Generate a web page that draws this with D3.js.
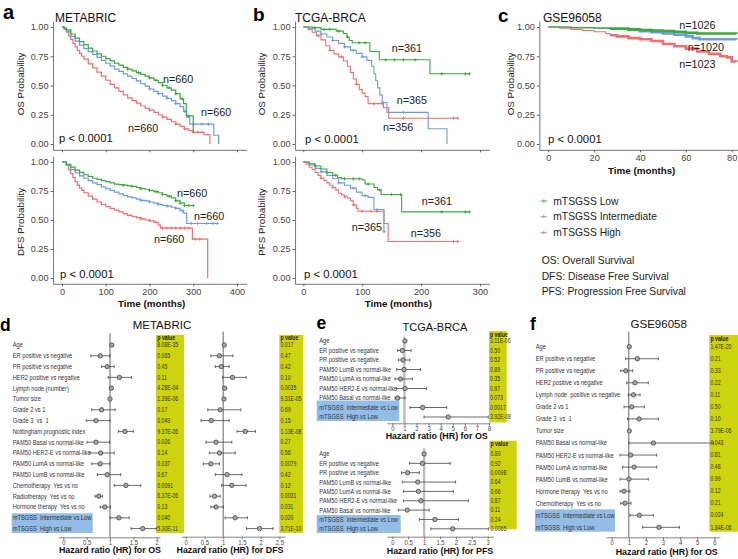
<!DOCTYPE html>
<html>
<head>
<meta charset="utf-8">
<script src="https://cdn.jsdelivr.net/npm/d3@7"></script>
<style>
  body { margin: 0; background: #fff; }
  text { white-space: pre; }
</style>
</head>
<body>
<script>
(function (d3) {
    'use strict';

    // ---------- Kaplan-Meier data: [month, survival probability] ----------
    var groups = ["mTSGSS Low", "mTSGSS Intermediate", "mTSGSS High"];

    var metabricOsLow = [[0,1],[5,0.99],[10,0.975],[20,0.94],[30,0.905],[40,0.875],[50,0.85],[60,0.82],[70,0.795],[80,0.77],[90,0.75],[100,0.73],[110,0.71],[120,0.69],[130,0.675],[140,0.655],[150,0.64],[160,0.625],[170,0.61],[180,0.595],[190,0.58],[200,0.565],[210,0.545],[220,0.525],[230,0.5],[240,0.48],[250,0.46],[260,0.43],[270,0.385],[278,0.345],[284,0.24],[300,0.105],[302,0.105]];
    var metabricOsInt = [[0,1],[5,0.985],[10,0.965],[20,0.92],[30,0.88],[40,0.845],[50,0.815],[60,0.79],[70,0.765],[80,0.74],[90,0.715],[100,0.69],[110,0.665],[120,0.64],[130,0.62],[140,0.6],[150,0.58],[160,0.56],[170,0.54],[180,0.515],[190,0.495],[200,0.47],[210,0.45],[220,0.43],[230,0.41],[240,0.39],[250,0.37],[260,0.345],[270,0.32],[278,0.28],[285,0.23],[292,0.17],[347,0.075],[358,0]];
    var metabricOsHigh = [[0,1],[5,0.98],[10,0.955],[15,0.925],[20,0.895],[25,0.86],[30,0.83],[35,0.8],[40,0.775],[45,0.75],[50,0.725],[60,0.685],[70,0.65],[80,0.615],[90,0.58],[100,0.545],[110,0.51],[120,0.48],[130,0.45],[140,0.42],[150,0.395],[160,0.37],[170,0.35],[180,0.325],[190,0.305],[200,0.29],[210,0.27],[220,0.25],[230,0.23],[240,0.21],[250,0.19],[260,0.17],[270,0.15],[280,0.13],[290,0.115],[300,0.1],[325,0.08],[338,0]];
    var metabricOsCensor = [[150,175,200,215,230,245,260,275,290],[200,220,240,260,280,300,320,335],[200,230,260,280,300,310,320]];

    var metabricDfsLow = [[0,1],[10,0.98],[20,0.955],[30,0.93],[40,0.91],[50,0.89],[60,0.875],[70,0.86],[80,0.85],[90,0.84],[100,0.83],[110,0.82],[120,0.81],[130,0.805],[140,0.8],[150,0.795],[160,0.79],[170,0.78],[180,0.77],[190,0.765],[200,0.755],[210,0.745],[220,0.735],[230,0.72],[240,0.705],[250,0.69],[260,0.665],[270,0.645],[280,0.625],[300,0.625]];
    var metabricDfsInt = [[0,1],[10,0.97],[20,0.935],[30,0.905],[40,0.88],[50,0.86],[60,0.84],[70,0.82],[80,0.805],[90,0.785],[100,0.77],[110,0.755],[120,0.74],[130,0.725],[140,0.71],[150,0.7],[160,0.69],[170,0.68],[180,0.67],[190,0.665],[200,0.655],[210,0.645],[220,0.635],[230,0.625],[240,0.62],[250,0.61],[260,0.6],[270,0.58],[278,0.56],[285,0.47],[355,0.47]];
    var metabricDfsHigh = [[0,1],[10,0.97],[15,0.935],[20,0.9],[25,0.865],[30,0.83],[35,0.8],[40,0.775],[45,0.755],[50,0.735],[60,0.705],[70,0.68],[80,0.655],[90,0.635],[100,0.615],[110,0.6],[120,0.585],[130,0.57],[140,0.555],[150,0.54],[160,0.53],[170,0.52],[180,0.51],[190,0.5],[200,0.495],[210,0.48],[220,0.455],[225,0.43],[298,0.335],[333,0]];
    var metabricDfsCensor = [[140,160,180,200,215,230,245,260,270,280,290,300],[180,200,220,240,260,275,295,310,330,345,355],[180,200,215,230,240,250,260,270,280,290,305,315]];

    var tcgaOsLow = [[0,1],[15,0.995],[30,0.98],[56,0.965],[68,0.945],[74,0.915],[78,0.885],[83,0.865],[113,0.79],[129,0.72],[215,0.6],[282,0.6]];
    var tcgaOsInt = [[0,1],[10,0.985],[20,0.965],[30,0.94],[40,0.915],[50,0.885],[60,0.86],[70,0.83],[80,0.8],[90,0.775],[100,0.745],[108,0.715],[116,0.665],[120,0.6],[123,0.54],[126,0.48],[130,0.42],[134,0.355],[142,0.27],[212,0.13],[244,0]];
    var tcgaOsHigh = [[0,1],[8,0.98],[15,0.955],[22,0.925],[30,0.89],[38,0.84],[45,0.8],[52,0.77],[60,0.745],[68,0.71],[75,0.665],[80,0.61],[85,0.555],[90,0.51],[95,0.465],[100,0.435],[105,0.405],[110,0.345],[136,0.31],[145,0.22],[262,0.22]];
    var tcgaOsCensor = [[20,35,45,60,75,95,105,140,155,170,190,235,275,282],[30,50,70,85,100,135,170],[25,45,65,90,120,135,170,255,262]];

    var tcgaPfsLow = [[0,1],[10,0.985],[20,0.965],[30,0.94],[40,0.91],[50,0.885],[58,0.865],[65,0.855],[100,0.845],[105,0.81],[120,0.78],[126,0.76],[132,0.72],[167,0.57],[282,0.57]];
    var tcgaPfsInt = [[0,1],[10,0.975],[20,0.945],[30,0.915],[40,0.885],[50,0.855],[60,0.82],[70,0.8],[80,0.775],[90,0.74],[100,0.71],[110,0.695],[120,0.59],[137,0.4],[138,0.4]];
    var tcgaPfsHigh = [[0,1],[5,0.98],[10,0.955],[15,0.935],[20,0.91],[25,0.885],[30,0.86],[35,0.84],[40,0.82],[45,0.8],[50,0.78],[55,0.76],[60,0.73],[65,0.715],[70,0.7],[75,0.69],[80,0.665],[85,0.63],[90,0.6],[93,0.575],[137,0.47],[144,0.315],[262,0.315]];
    var tcgaPfsCensor = [[20,40,55,70,85,95,110,130,150,165,235,275,282],[30,60,85,105,125,137],[30,50,70,85,100,115,125,255,262]];

    var gseOsLow = [[0,1],[10,0.995],[20,0.99],[27,0.985],[35,0.98],[40,0.975],[45,0.97],[50,0.965],[55,0.96],[60,0.95],[65,0.945],[82,0.94]];
    var gseOsInt = [[0,1],[10,0.995],[20,0.99],[27,0.985],[35,0.975],[40,0.965],[45,0.955],[50,0.945],[55,0.935],[60,0.92],[63,0.905],[66,0.895],[82,0.893]];
    var gseOsHigh = [[0,1],[5,0.99],[10,0.98],[15,0.97],[20,0.96],[25,0.945],[27,0.93],[30,0.92],[35,0.905],[40,0.895],[45,0.88],[50,0.855],[55,0.835],[60,0.815],[65,0.79],[70,0.77],[75,0.75],[78,0.74],[80,0.705],[82,0.7]];

    var metabricN = ["n=660", "n=660", "n=660"];
    var tcgaN = ["n=361", "n=365", "n=356"];
    var gseN = ["n=1026", "n=1020", "n=1023"];

    // ---------- Cox regression (forest plot) data ----------
    var metabricVars = ["Age", "ER positive vs negative", "PR positive vs negative", "HER2 positive vs negative",
        "Lymph node (number)", "Tumor size", "Grade 2 vs 1", "Grade 3  vs  1", "Nottingham prognostic index",
        "PAM50 Basal vs normal-like", "PAM50 HER2-E vs normal-like", "PAM50 LumA vs normal-like",
        "PAM50 LumB vs normal-like", "Chemotherapy  Yes vs no", "Radiotherapy  Yes vs no",
        "Hormone therapy  Yes vs no", "mTSGSS  Intermediate vs Low", "mTSGSS  High vs Low"];
    var metabricOsHR = [1.04,0.79,0.94,1.20,1.03,1.00,0.82,0.70,1.32,0.70,0.80,0.79,0.94,1.34,0.76,0.89,1.19,1.70];
    var metabricOsLo = [1.03,0.59,0.82,0.96,1.02,0.99,0.61,0.49,1.18,0.51,0.57,0.61,0.73,1.09,0.68,0.79,1.00,1.45];
    var metabricOsHi = [1.05,1.00,1.09,1.46,1.04,1.01,1.11,1.00,1.50,0.99,1.09,1.00,1.23,1.66,0.84,1.01,1.41,1.99];
    var metabricOsP = ["8.08E-35","0.065","0.45","0.11","4.28E-04","1.39E-06","0.17","0.049","9.37E-06","0.026","0.14","0.037","0.67","0.0091","6.37E-06","0.13","0.040","5.30E-11"];
    var metabricDfsHR = [1.03,0.90,0.95,1.25,1.04,1.02,0.92,0.68,1.59,0.81,0.90,0.67,1.10,1.23,0.77,0.81,1.32,1.97];
    var metabricDfsLo = [1.02,0.67,0.79,0.99,1.03,1.01,0.59,0.41,1.37,0.54,0.63,0.47,0.79,0.96,0.65,0.67,1.05,1.62];
    var metabricDfsHi = [1.04,1.26,1.16,1.61,1.05,1.03,1.47,1.16,1.86,1.23,1.32,0.90,1.50,1.61,0.92,1.01,1.65,2.33];
    var metabricDfsP = ["0.017","0.47","0.42","0.10","0.0035","9.31E-05","0.69","0.15","1.13E-08","0.27","0.56","0.0079","0.42","0.12","0.0031","0.031","0.020","3.71E-10"];

    var tcgaVars = ["Age", "ER positive vs negative", "PR positive vs negative", "PAM50 LumB vs normal-like",
        "PAM50 LumA vs normal-like", "PAM50 HER2-E vs normal-like", "PAM50 Basal vs normal-like",
        "mTSGSS  Intermediate vs Low", "mTSGSS  High vs Low"];
    var tcgaOsHR = [1.05,0.83,0.88,0.97,0.69,1.05,0.44,2.51,4.63];
    var tcgaOsLo = [1.03,0.44,0.50,0.36,0.22,0.36,0.22,1.46,2.62];
    var tcgaOsHi = [1.07,1.55,1.46,2.34,1.66,2.84,1.05,4.50,7.94];
    var tcgaOsP = ["3.11E-06","0.50","0.52","0.89","0.35","0.97","0.073","0.0017","3.92E-08"];
    var tcgaPfsHR = [1.00,0.95,0.48,0.80,0.82,0.90,0.47,1.34,1.90];
    var tcgaPfsLo = [0.99,0.54,0.29,0.31,0.35,0.35,0.19,0.85,1.21];
    var tcgaPfsHi = [1.01,1.82,0.85,1.99,1.92,2.39,1.16,2.08,3.02];
    var tcgaPfsP = ["0.80","0.92","0.0098","0.64","0.66","0.87","0.11","0.24","0.0065"];

    var gseVars = ["Age", "ER positive vs negative", "PR positive vs negative", "HER2 positive vs negative",
        "Lymph node  positive vs negative", "Grade 2 vs 1", "Grade 3  vs  1", "Tumor size",
        "PAM50 Basal vs normal-like", "PAM50 HER2-E vs normal-like", "PAM50 LumA vs normal-like",
        "PAM50 LumB vs normal-like", "Hormone therapy  Yes vs no", "Chemotherapy  Yes vs no",
        "mTSGSS  Intermediate vs Low", "mTSGSS  High vs Low"];
    var gseOsHR = [1.03,1.50,0.82,1.36,1.27,1.17,1.60,1.03,2.44,1.11,1.31,1.01,0.72,0.78,1.62,2.77];
    var gseOsLo = [1.02,0.82,0.53,0.88,0.97,0.72,0.92,1.02,1.01,0.49,0.64,0.49,0.49,0.53,1.07,1.81];
    var gseOsHi = [1.04,2.73,1.23,2.14,1.66,1.91,2.73,1.04,5.95,2.63,2.63,2.14,1.07,1.13,2.44,3.96];
    var gseOsP = ["1.47E-20","0.21","0.33","0.22","0.11","0.50","0.10","3.79E-06","0.043","0.81","0.48","0.99","0.12","0.21","0.024","1.84E-06"];

    var abbrevs = ["OS: Overall Survival", "DFS: Disease Free Survival", "PFS: Progression Free Survival"];

    // ---------- styles ----------
    var colors = ["#3aa83a", "#6f9bdc", "#f16e6e"];
    var SANS = "'Liberation Sans', Arial, Helvetica, sans-serif";
    var YELLOW = "#cdd30c";
    var BLUE = "#93bde6";
    var SQUEEZE = 0.82;   // forest text is a condensed face, fake it by scaling

    var svg = d3.select("body").append("svg")
        .attr("width", 738)
        .attr("height", 559)
        .attr("font-family", SANS);

    svg.append("rect").attr("width", 738).attr("height", 559).attr("fill", "#fff");

    // scale that maps d0->p0, d1->p1 but spans the wider domain [e0, e1]
    function fitScale(d0, p0, d1, p1, e0, e1) {
        var s = d3.scaleLinear().domain([d0, d1]).range([p0, p1]);
        return d3.scaleLinear().domain([e0, e1]).range([s(e0), s(e1)]);
    }

    function stepValue(data, t) {
        var v = data[0][1];
        data.forEach(function (d) { if (d[0] <= t) v = d[1]; });
        return v;
    }

    function drawKM(o) {
        var g = svg.append("g");
        var x = fitScale(0, o.x0, o.xRef, o.xRefPx, o.xMin, o.xMax);
        var y = fitScale(0, o.y0, 1, o.y1, -0.05, 1.05);

        var ya = g.append("g")
            .attr("transform", "translate(" + x(o.xMin) + ",0)")
            .call(d3.axisLeft(y).tickValues([0, 0.25, 0.5, 0.75, 1])
                .tickFormat(d3.format(".2f")).tickSize(2.5).tickPadding(2).tickSizeOuter(0));
        var xa = g.append("g")
            .attr("transform", "translate(0," + y(-0.05) + ")")
            .call(d3.axisBottom(x).tickValues(o.ticks).tickSize(2.5).tickPadding(2.5).tickSizeOuter(0));
        if (!o.xLabels) xa.selectAll("text").remove();
        [ya, xa].forEach(function (a) {
            a.select(".domain").attr("stroke", "#666").attr("stroke-width", 0.9);
            a.selectAll(".tick line").attr("stroke", "#666");
            a.selectAll("text").attr("font-family", SANS).attr("font-size", 9.2).attr("fill", "#444");
        });

        var clipId = "clip" + o.id;
        g.append("clipPath").attr("id", clipId).append("rect")
            .attr("x", x(o.xMin)).attr("y", y(1.05))
            .attr("width", x(o.xMax) - x(o.xMin)).attr("height", y(-0.05) - y(1.05));

        var line = d3.line()
            .x(function (d) { return x(d[0]); })
            .y(function (d) { return y(d[1]); })
            .curve(d3.curveStepAfter);

        var curves = g.append("g").attr("clip-path", "url(#" + clipId + ")");
        // draw high first so low sits on top
        [2, 1, 0].forEach(function (i) {
            var data = o.series[i];
            curves.append("path")
                .datum(data)
                .attr("fill", "none")
                .attr("stroke", colors[i])
                .attr("stroke-width", o.stroke)
                .attr("d", line);
            if (o.denseFrom !== undefined) {
                var dense = data.filter(function (d) { return d[0] >= o.denseFrom; });
                dense.unshift([o.denseFrom, stepValue(data, o.denseFrom)]);
                curves.append("path")
                    .datum(dense)
                    .attr("fill", "none")
                    .attr("stroke", colors[i])
                    .attr("stroke-width", 2.6)
                    .attr("d", line);
            }
            if (o.censor) {
                curves.selectAll(null)
                    .data(o.censor[i])
                    .enter().append("path")
                    .attr("stroke", colors[i])
                    .attr("stroke-width", 0.9)
                    .attr("d", function (t) {
                        var cx = x(t), cy = y(stepValue(data, t));
                        return "M" + (cx - 1.6) + "," + cy + "H" + (cx + 1.6) + "M" + cx + "," + (cy - 1.6) + "V" + (cy + 1.6);
                    });
            }
        });

        o.nLabels.forEach(function (txt, i) {
            g.append("text").attr("x", o.nPos[i][0]).attr("y", o.nPos[i][1])
                .attr("font-size", 10.8).attr("fill", "#222").text(txt);
        });

        g.append("text").attr("x", o.pPos[0]).attr("y", o.pPos[1])
            .attr("font-size", 11.3).attr("fill", "#111").text("p < 0.0001");

        g.append("text")
            .attr("transform", "translate(" + o.yTitle[1] + "," + o.yTitle[2] + ") rotate(-90)")
            .attr("text-anchor", "middle")
            .attr("font-size", 9.8).attr("fill", "#222")
            .text(o.yTitle[0]);

        if (o.xTitle) {
            g.append("text").attr("x", o.xTitle[0]).attr("y", o.xTitle[1])
                .attr("text-anchor", "middle").attr("font-weight", "bold")
                .attr("font-size", 9.8).attr("fill", "#111").text("Time (months)");
        }
    }

    drawKM({ id: "a1", series: [metabricOsLow, metabricOsInt, metabricOsHigh], censor: metabricOsCensor,
        x0: 62, xRef: 400, xRefPx: 237, xMin: -20.5, xMax: 422, y0: 144, y1: 27,
        ticks: [0, 100, 200, 300, 400], xLabels: false, stroke: 1.2,
        nLabels: metabricN, nPos: [[163, 83], [201, 116], [128, 132]], pPos: [59, 142],
        yTitle: ["OS Probability", 24, 84] });
    drawKM({ id: "a2", series: [metabricDfsLow, metabricDfsInt, metabricDfsHigh], censor: metabricDfsCensor,
        x0: 62, xRef: 400, xRefPx: 237, xMin: -20.5, xMax: 422, y0: 278, y1: 162,
        ticks: [0, 100, 200, 300, 400], xLabels: true, stroke: 1.2,
        nLabels: metabricN, nPos: [[177, 197], [194, 220], [154, 243]], pPos: [60, 278],
        yTitle: ["DFS Probability", 24, 222], xTitle: [151.7, 307.3] });
    drawKM({ id: "b1", series: [tcgaOsLow, tcgaOsInt, tcgaOsHigh], censor: tcgaOsCensor,
        x0: 303.3, xRef: 300, xRefPx: 480, xMin: -14, xMax: 316, y0: 144, y1: 27,
        ticks: [0, 100, 200, 300], xLabels: false, stroke: 1.1,
        nLabels: tcgaN, nPos: [[391.7, 52.3], [396.7, 104], [383, 130.7]], pPos: [305, 142.7],
        yTitle: ["OS Probability", 265, 84] });
    drawKM({ id: "b2", series: [tcgaPfsLow, tcgaPfsInt, tcgaPfsHigh], censor: tcgaPfsCensor,
        x0: 303.3, xRef: 300, xRefPx: 480, xMin: -14, xMax: 316, y0: 278, y1: 162,
        ticks: [0, 100, 200, 300], xLabels: true, stroke: 1.1,
        nLabels: tcgaN, nPos: [[421.7, 205], [351.7, 230.7], [410.7, 236.7]], pPos: [304, 278.3],
        yTitle: ["PFS Probability", 265, 222], xTitle: [398.3, 306.7] });
    drawKM({ id: "c1", series: [gseOsLow, gseOsInt, gseOsHigh], denseFrom: 27,
        x0: 548.3, xRef: 80, xRefPx: 731.7, xMin: -3.9, xMax: 85, y0: 144, y1: 27,
        ticks: [0, 20, 40, 60, 80], xLabels: true, stroke: 1.1,
        nLabels: gseN, nPos: [[679.3, 29.3], [687.7, 51], [679.3, 68.3]], pPos: [548, 142.7],
        yTitle: ["OS Probability", 514, 84], xTitle: [641.7, 174] });

    // panel titles and letters
    [["METABRIC", 55, 21.5], ["TCGA-BRCA", 295, 21.5], ["GSE96058", 543, 22]].forEach(function (t) {
        svg.append("text").attr("x", t[1]).attr("y", t[2]).attr("font-size", 12).attr("fill", "#111").text(t[0]);
    });
    [["a", 3, 18.5, 20], ["b", 253, 20.5, 19], ["c", 498, 21.7, 19],
     ["d", 0, 330.5, 17.5], ["e", 316.5, 329, 17.5], ["f", 530, 330, 17.5]].forEach(function (t) {
        svg.append("text").attr("x", t[1]).attr("y", t[2]).attr("font-size", t[3])
            .attr("font-weight", "bold").attr("fill", "#000").text(t[0]);
    });

    // legend
    var legend = svg.append("g");
    groups.forEach(function (name, i) {
        var ly = [201, 216.7, 232.7][i];
        legend.append("path").attr("stroke", colors[i]).attr("stroke-width", 0.9)
            .attr("d", "M540.5," + ly + "H547M543.8," + (ly - 1.7) + "V" + (ly + 1.7));
        legend.append("text").attr("x", 553.3).attr("y", ly).attr("dy", "0.35em")
            .attr("font-size", 10.3).attr("fill", "#222").text(name);
    });
    abbrevs.forEach(function (txt, i) {
        legend.append("text").attr("x", 541.7).attr("y", [260.7, 276.7, 291.7][i]).attr("dy", "0.35em")
            .attr("font-size", 10.3).attr("fill", "#222").text(txt);
    });

    // ---------- forest plots ----------
    function squeezed(sel, px, py) {
        return sel.attr("transform", function (d, i) {
            return "translate(" + px(d, i) + "," + py(d, i) + ") scale(" + SQUEEZE + ",1)";
        });
    }

    function drawLabels(vars, labelX, rowY0, rowStep, hlBox) {
        var g = svg.append("g");
        g.append("rect").attr("x", hlBox[0]).attr("y", hlBox[1])
            .attr("width", hlBox[2] - hlBox[0]).attr("height", hlBox[3] - hlBox[1]).attr("fill", BLUE);
        var t = g.selectAll("text").data(vars).enter().append("text")
            .attr("dy", "0.35em")
            .attr("font-size", 7).attr("fill", "#333")
            .text(function (d) { return d; });
        squeezed(t, function () { return labelX; }, function (d, i) { return rowY0 + i * rowStep; });
    }

    function drawForest(o) {
        var g = svg.append("g");
        var x = fitScale(0, o.x0, o.xRef, o.xRefPx, o.e0, o.e1);
        var rowY = function (i) { return o.rowY0 + i * o.rowStep; };

        // p value column
        g.append("rect").attr("x", o.pBox[0]).attr("y", o.pBox[1])
            .attr("width", o.pBox[2] - o.pBox[0]).attr("height", o.pBox[3] - o.pBox[1]).attr("fill", YELLOW);
        var head = g.append("text").datum("p value").attr("dy", "0.35em")
            .attr("font-size", 6.3).attr("font-weight", "bold")
            .attr("fill", "#222").text("p value");
        squeezed(head, function () { return o.pX; }, function () { return o.pHeadY; });
        var pv = g.selectAll(".pv").data(o.p).enter().append("text")
            .attr("dy", "0.35em")
            .attr("font-size", 6.3).attr("fill", "#333")
            .text(function (d) { return d; });
        squeezed(pv, function () { return o.pX; }, function (d, i) { return rowY(i); });

        // reference line at HR = 1
        g.append("line").attr("x1", x(1)).attr("x2", x(1))
            .attr("y1", o.refTop).attr("y2", o.axisY)
            .attr("stroke", o.refColor).attr("stroke-width", o.refWidth);

        // axis
        var ax = g.append("g").attr("transform", "translate(0," + o.axisY + ")")
            .call(d3.axisBottom(x).tickValues(o.ticks).tickFormat(function (d) { return String(d); })
                .tickSize(2.5).tickPadding(0.5).tickSizeOuter(0));
        ax.select(".domain").attr("stroke", "#777").attr("stroke-width", 0.9);
        ax.selectAll(".tick line").attr("stroke", "#777");
        ax.selectAll("text").attr("font-size", 7.2).attr("fill", "#444")
            .attr("transform", "scale(" + SQUEEZE + ",1)");

        g.append("text").attr("x", o.title[0]).attr("y", o.title[1])
            .attr("text-anchor", "middle").attr("font-weight", "bold")
            .attr("font-size", 8.9).attr("fill", "#111").text(o.titleText);

        // confidence intervals and points
        var rows = g.selectAll(".row").data(o.hr).enter().append("g");
        rows.append("path")
            .attr("fill", "none").attr("stroke", "#444").attr("stroke-width", 0.8)
            .attr("d", function (d, i) {
                var y = rowY(i), a = x(o.lo[i]), b = x(o.hi[i]);
                return "M" + a + "," + y + "H" + b +
                    "M" + a + "," + (y - 1.5) + "V" + (y + 1.5) +
                    "M" + b + "," + (y - 1.5) + "V" + (y + 1.5);
            });
        rows.append("circle")
            .attr("cx", function (d) { return x(d); })
            .attr("cy", function (d, i) { return rowY(i); })
            .attr("r", 2.2)
            .attr("fill", "#a8a8a8").attr("stroke", "#333").attr("stroke-width", 0.7);
    }

    // d: METABRIC
    drawLabels(metabricVars, 12.7, 345, 10.8, [11.7, 513.3, 92.7, 533]);
    drawForest({ hr: metabricOsHR, lo: metabricOsLo, hi: metabricOsHi, p: metabricOsP,
        rowY0: 345, rowStep: 10.8, x0: 63.3, xRef: 2, xRefPx: 156.7, e0: -0.107, e1: 2.07,
        ticks: [0, 0.5, 1, 1.5, 2], axisY: 537.3, refTop: 333, refColor: "#555", refWidth: 0.9,
        pBox: [156, 335, 184, 533], pX: 157.3, pHeadY: 338,
        titleText: "Hazard ratio (HR) for OS", title: [110, 553.3] });
    drawForest({ hr: metabricDfsHR, lo: metabricDfsLo, hi: metabricDfsHi, p: metabricDfsP,
        rowY0: 345, rowStep: 10.8, x0: 185.7, xRef: 2.5, xRefPx: 279.4, e0: -0.107, e1: 2.65,
        ticks: [0, 0.5, 1, 1.5, 2, 2.5], axisY: 536.7, refTop: 331.7, refColor: "#555", refWidth: 0.9,
        pBox: [279.3, 335, 303.3, 533], pX: 280.5, pHeadY: 338,
        titleText: "Hazard ratio (HR) for DFS", title: [230, 553.3] });
    svg.append("text").attr("x", 162).attr("y", 328.5).attr("text-anchor", "middle")
        .attr("font-size", 11.5).attr("fill", "#111").text("METABRIC");

    // e: TCGA-BRCA
    drawLabels(tcgaVars, 319.3, 341, 9.5, [316.7, 400.5, 399.3, 421]);
    drawForest({ hr: tcgaOsHR, lo: tcgaOsLo, hi: tcgaOsHi, p: tcgaOsP,
        rowY0: 341, rowStep: 9.5, x0: 392.3, xRef: 8, xRefPx: 489, e0: -0.46, e1: 8.08,
        ticks: [0, 1, 2, 3, 4, 5, 6, 7, 8], axisY: 423.3, refTop: 336.7, refColor: "#bdbdbd", refWidth: 2.4,
        pBox: [489, 331, 506.7, 422.5], pX: 490, pHeadY: 334.3,
        titleText: "Hazard ratio (HR) for OS", title: [436.7, 439] });
    drawLabels(tcgaVars, 319.3, 454, 9.35, [316.7, 515, 400.7, 533]);
    drawForest({ hr: tcgaPfsHR, lo: tcgaPfsLo, hi: tcgaPfsHi, p: tcgaPfsP,
        rowY0: 454, rowStep: 9.35, x0: 392.3, xRef: 3, xRefPx: 487.7, e0: -0.176, e1: 3.18,
        ticks: [0, 0.5, 1, 1.5, 2, 2.5, 3], axisY: 536.7, refTop: 448.3, refColor: "#bdbdbd", refWidth: 2.4,
        pBox: [489.3, 440.7, 516.7, 529.3], pX: 490.5, pHeadY: 443.5,
        titleText: "Hazard ratio (HR) for PFS", title: [440, 554.3] });
    svg.append("text").attr("x", 435).attr("y", 330.5).attr("text-anchor", "middle")
        .attr("font-size", 11).attr("fill", "#111").text("TCGA-BRCA");

    // f: GSE96058
    drawLabels(gseVars, 535.7, 346.7, 12.04, [535, 509.3, 615, 531.7]);
    drawForest({ hr: gseOsHR, lo: gseOsLo, hi: gseOsHi, p: gseOsP,
        rowY0: 346.7, rowStep: 12.04, x0: 611.7, xRef: 6, xRefPx: 714.3, e0: -0.333, e1: 6.33,
        ticks: [0, 1, 2, 3, 4, 5, 6], axisY: 537.3, refTop: 331.7, refColor: "#555", refWidth: 0.9,
        pBox: [709.3, 335, 738, 531.7], pX: 710.5, pHeadY: 338.5,
        titleText: "Hazard ratio (HR) for OS", title: [666.7, 555.3] });
    svg.append("text").attr("x", 658.7).attr("y", 328.3).attr("text-anchor", "middle")
        .attr("font-size", 11.5).attr("fill", "#111").text("GSE96058");

})(d3);
</script>
</body>
</html>
